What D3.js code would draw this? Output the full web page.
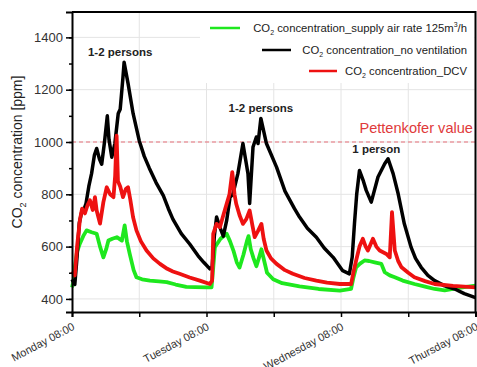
<!DOCTYPE html>
<html>
<head>
<meta charset="utf-8">
<script src="https://cdn.jsdelivr.net/npm/d3@7"></script>
<style>
  body { margin: 0; background: #fff; }
  svg { display: block; font-family: "Liberation Sans", Arial, sans-serif; }
</style>
</head>
<body>
<div id="chart"></div>
<script>
// hours since Monday 08:00, CO2 in ppm
const greenSupply = [
  [0,444],[0.3,470],[0.5,521],[0.9,580],[1.4,611],[2.0,640],[2.6,662],[3.5,655],[4.4,649],[5.0,600],[5.6,559],[6.1,590],
  [6.5,623],[7.2,630],[8.0,636],[8.9,623],[9.4,681],[9.8,620],[10.3,572],[11.0,510],[11.5,483],[12.5,475],[13.9,470],
  [15.5,467],[16.9,464],[18.5,455],[20.4,446],[22.0,445],[24.0,444],[24.9,444],[25.2,520],[25.5,598],[26.5,630],
  [27.6,649],[28.2,620],[28.8,585],[29.4,540],[29.9,520],[30.6,570],[31.2,620],[31.5,640],[31.9,590],[32.4,555],
  [32.9,525],[33.4,560],[33.8,590],[34.3,545],[34.8,500],[35.9,475],[37.5,460],[40.6,448],[44,438],[47.8,432],
  [49.8,438],[50.2,480],[50.7,521],[51.4,535],[52.2,547],[53.0,545],[54.0,540],[55.2,534],[55.8,502],[56.7,490],
  [57.6,483],[59.0,470],[61.1,457],[63.0,447],[64.7,438],[66.5,433],[68.5,440],[70,445],[72,451]
];
const blackNoVent = [
  [0,475],[0.5,455],[0.9,560],[1.3,690],[1.7,730],[2.1,740],[2.5,765],[3.0,830],[3.5,880],[4.0,950],[4.4,975],[4.9,935],
  [5.3,915],[5.8,1000],[6.3,1100],[6.6,1010],[7.1,942],[7.65,994],[8.25,1109],[8.6,1125],[9.1,1249],[9.3,1305],
  [10.0,1224],[10.9,1109],[12.0,1005],[12.9,945],[13.8,900],[15.0,845],[16.3,795],[17.2,745],[18.0,705],[19.5,650],
  [21.0,610],[22.5,565],[23.5,540],[24.6,515],[25.0,520],[25.4,640],[25.8,713],[26.4,674],[27.0,640],[27.6,700],
  [28.2,789],[28.7,800],[29.6,879],[30.5,994],[31.0,930],[31.4,879],[31.7,765],[32.3,981],[32.9,1019],[33.2,994],
  [33.7,1090],[34.7,994],[36.5,904],[38.0,812],[39.7,745],[40.6,713],[42.0,670],[43.6,636],[45.0,595],[46.6,559],
  [48.3,508],[49.5,496],[50.0,560],[50.4,687],[50.8,800],[51.3,891],[52.0,850],[52.5,815],[53.4,770],[54.6,866],
  [55.8,917],[56.4,936],[57.3,879],[58.2,802],[59.3,687],[60.5,598],[61.3,555],[62.3,521],[63.5,490],[64.7,470],
  [66.5,450],[68.3,438],[70,420],[72,405]
];
const redDcv = [
  [0,505],[0.5,490],[0.9,600],[1.4,700],[1.8,745],[2.3,727],[2.8,760],[3.2,777],[3.7,740],[4.1,789],[4.4,738],[5.0,688],
  [5.6,770],[6.2,827],[6.8,800],[7.4,789],[7.7,870],[7.96,1024],[8.2,850],[8.6,830],[9.1,789],[9.6,820],[10.0,827],
  [10.4,780],[10.9,712],[11.5,662],[12.3,620],[13.3,585],[14.5,555],[15.7,534],[17.0,515],[18.0,505],[19.2,496],
  [21.0,482],[22.8,470],[24.6,457],[25.0,470],[25.2,649],[25.8,687],[26.4,674],[27.0,720],[27.6,764],[28.1,800],
  [28.6,885],[29.0,800],[29.3,764],[29.9,720],[30.5,687],[31.1,705],[31.7,738],[32.2,680],[32.6,636],[33.2,660],
  [33.8,687],[34.2,630],[34.7,585],[35.5,555],[36.5,534],[38.0,510],[39.4,496],[41.5,480],[43.6,470],[45.5,462],
  [47.8,457],[49.8,457],[50.2,500],[50.7,547],[51.3,600],[51.9,630],[52.4,600],[52.8,585],[53.7,630],[54.3,600],
  [54.9,585],[56.1,572],[56.7,559],[57.1,732],[57.6,585],[58.2,545],[58.8,521],[60.0,500],[61.1,483],[63.0,468],
  [64.7,457],[68.0,450],[72,444]
];

const xTicks = [0, 12, 24, 36, 48, 60, 72];
const dayLabels = ["Monday 08:00", "Tuesday 08:00", "Wednesday 08:00", "Thursday 08:00"];
const yTicks = [400, 600, 800, 1000, 1200, 1400];
const yMinorTicks = [400, 500, 600, 700, 800, 900, 1000, 1100, 1200, 1300, 1400];
const pettenkofer = 1000;

const seriesNames = ["supply air rate 125m", "no ventilation", "DCV"];
// label anchors (hours, ppm)
const annotations = [
  { text: "1-2 persons", h: 8.6, v: 1305 },
  { text: "1-2 persons", h: 33.7, v: 1090 },
  { text: "1 person", h: 54.3, v: 936 }
];

const W = 477, H = 367;
const mLeft = 72, mRight = 475.5, mTop = 12, mBottom = 312;

const x = d3.scaleLinear().domain([0, 72]).range([mLeft, mRight]);
const y = d3.scaleLinear().domain([350, 1497]).range([mBottom, mTop]);

const svg = d3.create("svg")
  .attr("width", W)
  .attr("height", H);

// grid
const grid = svg.append("g").attr("stroke", "#e4e4e4").attr("stroke-width", 1);
grid.selectAll("line.gy").data(yTicks).join("line")
  .attr("x1", mLeft).attr("x2", mRight)
  .attr("y1", d => y(d)).attr("y2", d => y(d));
grid.selectAll("line.gx").data(xTicks.slice(1, -1)).join("line")
  .attr("x1", d => x(d)).attr("x2", d => x(d))
  .attr("y1", mTop).attr("y2", mBottom);

// Pettenkofer reference
svg.append("line")
  .attr("x1", mLeft).attr("x2", mRight)
  .attr("y1", y(pettenkofer)).attr("y2", y(pettenkofer))
  .attr("stroke", "#e8707a").attr("stroke-width", 1.2)
  .attr("stroke-dasharray", "4,3");

const line = d3.line().x(d => x(d[0])).y(d => y(d[1]));

const lines = [
  { data: greenSupply, color: "#1ee81e", w: 3.8 },
  { data: blackNoVent, color: "#000", w: 3.5 },
  { data: redDcv, color: "#ee1111", w: 3.8 }
];
svg.append("g").attr("fill", "none").attr("stroke-linejoin", "round")
  .selectAll("path").data(lines).join("path")
  .attr("d", d => line(d.data))
  .attr("stroke", d => d.color)
  .attr("stroke-width", d => d.w);

// legend (white box over grid)
svg.append("rect").attr("x", 200).attr("y", mTop + 1).attr("width", mRight - 201).attr("height", 70).attr("fill", "#fff");
const legend = svg.append("g").attr("font-size", 11.3).attr("fill", "#222");
const rows = [
  { color: "#1ee81e", y: 28, x1: 210, x2: 240, name: seriesNames[0], sup: true },
  { color: "#000", y: 50, x1: 262, x2: 291, name: seriesNames[1] },
  { color: "#ee1111", y: 71, x1: 309, x2: 337, name: seriesNames[2] }
];
rows.forEach(r => {
  legend.append("line").attr("x1", r.x1).attr("x2", r.x2).attr("y1", r.y).attr("y2", r.y)
    .attr("stroke", r.color).attr("stroke-width", 2.5);
  const t = legend.append("text").attr("x", 467).attr("y", r.y + 4).attr("text-anchor", "end");
  t.append("tspan").text("CO");
  t.append("tspan").attr("font-size", 7).attr("dy", 3).text("2");
  t.append("tspan").attr("dy", -3).text(" concentration_" + r.name);
  if (r.sup) {
    t.append("tspan").attr("font-size", 7).attr("dy", -5).text("3");
    t.append("tspan").attr("dy", 5).text("/h");
  }
});

// axes
const yAxis = svg.append("g").attr("transform", `translate(${mLeft},0)`)
  .call(d3.axisLeft(y).tickValues(yTicks).tickSize(6).tickPadding(3).tickFormat(d3.format("d")));
svg.append("g").attr("transform", `translate(${mLeft},0)`)
  .call(d3.axisLeft(y).tickValues(yMinorTicks).tickSize(3).tickFormat(""))
  .call(g => g.select(".domain").remove());
yAxis.select(".domain").attr("stroke-width", 2);
yAxis.selectAll("text").attr("font-size", 13).attr("fill", "#333").attr("font-family", null);
svg.selectAll(".tick line").attr("stroke-width", 1.5);

const xAxis = svg.append("g").attr("transform", `translate(0,${mBottom})`)
  .call(d3.axisBottom(x).tickValues(xTicks).tickSize(5)
    .tickFormat(d => d % 24 === 0 ? dayLabels[d / 24] : ""));
xAxis.select(".domain").attr("stroke-width", 2);
xAxis.selectAll(".tick line").attr("stroke-width", 1.5);
xAxis.selectAll("text")
  .attr("font-size", 11).attr("fill", "#333").attr("font-family", null)
  .attr("text-anchor", "end")
  .attr("dy", null).attr("y", 0)
  .attr("transform", "translate(3,17) rotate(-28)");

// frame top/right
svg.append("path")
  .attr("d", `M${mLeft},${mTop}H${mRight}V${mBottom}`)
  .attr("fill", "none").attr("stroke", "#000").attr("stroke-width", 2);

// y title
const yt = svg.append("text")
  .attr("transform", `translate(22,152) rotate(-90)`)
  .attr("text-anchor", "middle").attr("font-size", 14).attr("fill", "#222");
yt.append("tspan").text("CO");
yt.append("tspan").attr("font-size", 9).attr("dy", 4).text("2");
yt.append("tspan").attr("dy", -4).text(" concentration [ppm]");

// annotations
svg.append("g").attr("font-size", 11.5).attr("font-weight", "bold").attr("fill", "#222")
  .selectAll("text").data(annotations).join("text")
  .attr("x", d => x(d.h)).attr("y", d => y(d.v) - 6)
  .attr("text-anchor", "middle")
  .text(d => d.text);

svg.append("text")
  .attr("x", 473).attr("y", y(pettenkofer) - 9)
  .attr("text-anchor", "end").attr("font-size", 14.6).attr("fill", "#e03a3a")
  .text("Pettenkofer value");

d3.select("#chart").append(() => svg.node());
</script>
</body>
</html>
